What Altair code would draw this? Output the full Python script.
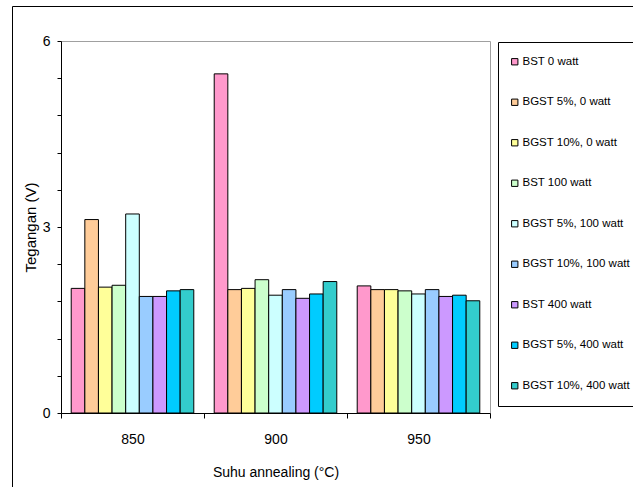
import altair as alt
import pandas as pd

temps = ["850", "900", "950"]
series = ["BST 0 watt", "BGST 5%, 0 watt", "BGST 10%, 0 watt", "BST 100 watt",
          "BGST 5%, 100 watt", "BGST 10%, 100 watt", "BST 400 watt",
          "BGST 5%, 400 watt", "BGST 10%, 400 watt"]
colors = ["#FF99CC", "#FFCC99", "#FFFF99", "#CCFFCC", "#CCFFFF",
          "#99CCFF", "#CC99FF", "#00CCFF", "#33CCCC"]
v_bst0 = [2.01, 5.47, 2.05]
v_bgst5_0 = [3.12, 1.99, 1.99]
v_bgst10_0 = [2.03, 2.01, 1.99]
v_bst100 = [2.06, 2.15, 1.97]
v_bgst5_100 = [3.21, 1.90, 1.92]
v_bgst10_100 = [1.88, 1.99, 1.99]
v_bst400 = [1.88, 1.85, 1.88]
v_bgst5_400 = [1.97, 1.92, 1.90]
v_bgst10_400 = [1.99, 2.12, 1.81]
y_ticks = [0, 0.6, 1.2, 1.8, 2.4, 3, 3.6, 4.2, 4.8, 5.4, 6]

all_vals = [v_bst0, v_bgst5_0, v_bgst10_0, v_bst100, v_bgst5_100,
            v_bgst10_100, v_bst400, v_bgst5_400, v_bgst10_400]
rows = []
for s, vals in zip(series, all_vals):
    for t, v in zip(temps, vals):
        rows.append({"temp": t, "series": s, "value": v})
df = pd.DataFrame(rows)

FONT = "Liberation Sans"

bars = alt.Chart(df).mark_bar(stroke="black", strokeWidth=1).encode(
    x=alt.X("temp:N", sort=temps,
            scale=alt.Scale(paddingInner=0, paddingOuter=0),
            axis=alt.Axis(title="Suhu annealing (°C)", labelAngle=0, tickBand="extent",
                          domainColor="black", tickColor="black", tickSize=5,
                          labelFont=FONT, labelFontSize=14, labelColor="black",
                          labelPadding=14, titleFont=FONT, titleFontSize=14,
                          titleFontWeight="normal", titleColor="black",
                          titleY=59, titleBaseline="middle")),
    xOffset=alt.XOffset("series:N", sort=series,
                        scale=alt.Scale(paddingInner=0, paddingOuter=0.75)),
    y=alt.Y("value:Q", scale=alt.Scale(domain=[0, 6], nice=False),
            axis=alt.Axis(title="Tegangan (V)", values=y_ticks, format="~g",
                          labelExpr="(datum.value == 0 || datum.value == 3 || datum.value == 6) ? datum.label : ''",
                          grid=False, domainColor="black", tickColor="black", tickSize=4,
                          labelFont=FONT, labelFontSize=14, labelColor="black",
                          labelPadding=7, titleFont=FONT, titleFontSize=15,
                          titleFontWeight="normal", titleColor="black",
                          titleX=-31, titleY=186, titleBaseline="middle")),
    color=alt.Color("series:N", sort=series,
                    scale=alt.Scale(domain=series, range=colors),
                    legend=alt.Legend(title=None, orient="none", legendX=448, legendY=15,
                                      symbolType="square", symbolSize=40,
                                      symbolStrokeColor="black", symbolStrokeWidth=1,
                                      labelFont=FONT, labelFontSize=11.5, labelColor="black",
                                      rowPadding=27.5, labelOffset=2, padding=0,
                                      labelLimit=200)),
)

deco = pd.DataFrame({"a": [0]})
def rule(x, x2, y, y2):
    return alt.Chart(deco).mark_rule(color="black", strokeWidth=1).encode(
        x=alt.value(x), x2=alt.value(x2), y=alt.value(y), y2=alt.value(y2))

decor = [
    rule(-48.5, -48.5, -34.5, 450),      # outer left border
    rule(-48.5, 600, -34.5, -34.5),      # outer top border
    rule(437.5, 437.5, 1.5, 365.5),      # legend left
    rule(437.5, 600, 1.5, 1.5),          # legend top
    rule(437.5, 600, 365.5, 365.5),      # legend bottom
]

chart = alt.layer(bars, *decor).properties(
    width=429, height=372,
    autosize=alt.AutoSizeParams(type="none"),
    padding={"left": 61, "top": 41, "right": 143, "bottom": 74},
    background="white",
).configure_view(stroke="#A0A0A0", strokeWidth=1)

chart.save("out.html", embed_options={"renderer": "svg", "actions": False})
